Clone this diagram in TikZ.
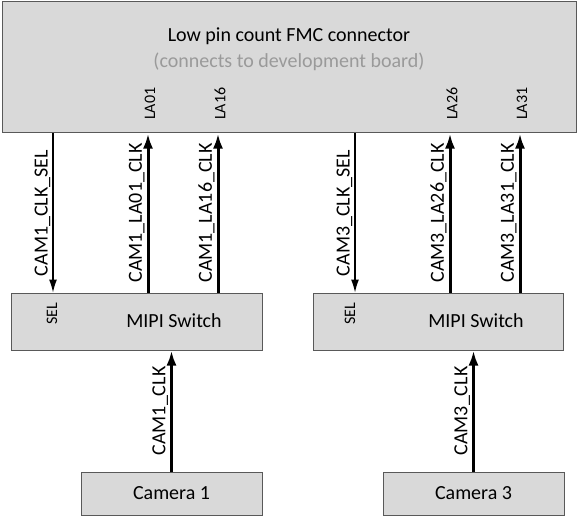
\documentclass[tikz,border=0pt]{standalone}
\usepackage{fontspec}
\setmainfont{Carlito}
\usetikzlibrary{arrows.meta}
\definecolor{boxfill}{HTML}{D9D9D9}
\definecolor{boxline}{HTML}{595959}
\definecolor{subgray}{HTML}{9A9A9A}
\begin{document}
\begin{tikzpicture}[x=1pt, y=-1pt, font=\fontsize{20}{24}\selectfont,
  block/.style={draw=boxline, fill=boxfill, line width=1pt, inner sep=0pt},
  pin label/.style={rotate=90, font=\fontsize{16}{16}\selectfont, inner sep=0pt},
  sig label/.style={midway, rotate=90, anchor=south, inner sep=2pt},
  clk/.style={line width=3pt, -{Latex[length=15pt, width=10pt]}},
  selsig/.style={line width=1.2pt, -{Latex[length=13pt, width=8pt]}}]
  \useasboundingbox (0,0) rectangle (578,516);
  % connector
  \node[block, minimum width=574pt, minimum height=131pt] (fmc) at (289,67.5) {};
  \node[anchor=base] (title) at (289,42) {Low pin count FMC connector};
  \node[anchor=base, text=subgray] (sub) at (289,68) {(connects to development board)};
  \node[pin label, anchor=west] (la01) at (150,120) {LA01};
  \node[pin label, anchor=west] (la16) at (220,120) {LA16};
  \node[pin label, anchor=west] (la26) at (452,120) {LA26};
  \node[pin label, anchor=west] (la31) at (522,120) {LA31};
  % switches
  \node[block, minimum width=251pt, minimum height=57pt] (sw1) at (136.5,321.5) {};
  \node[block, minimum width=250pt, minimum height=57pt] (sw3) at (438,321.5) {};
  \node[anchor=base] (mipi1) at (174,327) {MIPI Switch};
  \node[anchor=base] (mipi3) at (476,327) {MIPI Switch};
  \node[pin label] (sel1) at (52,314) {SEL};
  \node[pin label] (sel3) at (350,314) {SEL};
  % cameras
  \node[block, minimum width=181pt, minimum height=43pt] (cam1) at (171.5,493.5) {Camera 1};
  \node[block, minimum width=181pt, minimum height=43pt] (cam3) at (473.5,493.5) {Camera 3};
  % signals
  \draw[selsig] (fmc.south -| 53,0) -- (sw1.north -| 53,0)
    node[sig label] {CAM1\_CLK\_SEL};
  \draw[clk] (sw1.north -| 148,0) -- (fmc.south -| 148,0)
    node[sig label] {CAM1\_LA01\_CLK};
  \draw[clk] (sw1.north -| 218,0) -- (fmc.south -| 218,0)
    node[sig label] {CAM1\_LA16\_CLK};
  \draw[selsig] (fmc.south -| 355,0) -- (sw3.north -| 355,0)
    node[sig label] {CAM3\_CLK\_SEL};
  \draw[clk] (sw3.north -| 450,0) -- (fmc.south -| 450,0)
    node[sig label] {CAM3\_LA26\_CLK};
  \draw[clk] (sw3.north -| 520,0) -- (fmc.south -| 520,0)
    node[sig label] {CAM3\_LA31\_CLK};
  \draw[clk] (cam1.north) -- (cam1.north |- sw1.south)
    node[sig label] {CAM1\_CLK};
  \draw[clk] (cam3.north) -- (cam3.north |- sw3.south)
    node[sig label] {CAM3\_CLK};
\end{tikzpicture}
\end{document}
